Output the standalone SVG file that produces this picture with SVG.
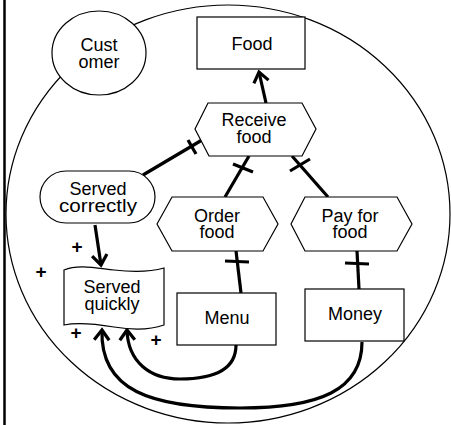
<svg xmlns="http://www.w3.org/2000/svg" width="451" height="425" viewBox="0 0 451 425">
<style>
.n{fill:#fff;stroke:#000;stroke-width:1.2}
.t{font-family:"Liberation Sans",Arial,sans-serif;font-size:18px;fill:#000;text-anchor:middle}
.p{font-family:"Liberation Sans",Arial,sans-serif;font-size:19px;font-weight:bold;fill:#000;text-anchor:middle}
.c{fill:none;stroke:#000;stroke-width:3.2}
.k{stroke:#000;stroke-width:3.2}
</style>
<defs>
<marker id="ah" markerUnits="userSpaceOnUse" markerWidth="24" markerHeight="24" viewBox="-12 -12 24 24" refX="0" refY="0" orient="auto">
<path d="M-10,-7.5 L0,0 L-10,7.5" fill="none" stroke="#000" stroke-width="3.2"/>
</marker>
</defs>
<rect width="451" height="425" fill="#fff"/>
<line x1="4.5" y1="0" x2="4.5" y2="425" stroke="#000" stroke-width="2.5"/>
<ellipse id="boundary" cx="228" cy="214" rx="222" ry="209" fill="none" stroke="#000" stroke-width="1.2"/>
<g id="customer"><ellipse class="n" cx="99" cy="53" rx="47" ry="42"/><text class="t" x="99" y="51">Cust</text><text class="t" x="99" y="68">omer</text></g>
<g id="connectors">
<line class="c" x1="266" y1="103" x2="259" y2="72" marker-end="url(#ah)"/>
<line class="c" x1="143" y1="175" x2="202" y2="140"/>
<line class="k" x1="188" y1="140" x2="196" y2="154"/>
<line class="c" x1="249" y1="156" x2="225" y2="197"/>
<line class="k" x1="233" y1="164" x2="253" y2="172"/>
<line class="c" x1="292" y1="156" x2="328" y2="197"/>
<line class="k" x1="290" y1="171" x2="310" y2="159"/>
<line class="c" x1="241" y1="293" x2="236" y2="251"/>
<line class="k" x1="225" y1="261" x2="249" y2="262"/>
<line class="c" x1="359" y1="289" x2="357" y2="251"/>
<line class="k" x1="345" y1="263" x2="369" y2="264"/>
<line class="c" x1="95" y1="225" x2="101" y2="265" marker-end="url(#ah)"/>
<path class="c" d="M236,345 C236,372 210,379 180,379 C150,379 128,362 127,330" marker-end="url(#ah)"/>
<path class="c" d="M362,342 C362,390 320,408 240,408 C150,408 100,390 102,330" marker-end="url(#ah)"/>
</g>
<g id="food"><rect class="n" x="197" y="17" width="108" height="52"/><text class="t" x="252" y="50">Food</text></g>
<g id="receive-food"><polygon class="n" points="195,129 208,103 302,103 316,129 302,156 209,156"/><text class="t" x="254" y="126">Receive</text><text class="t" x="254" y="143">food</text></g>
<g id="served-correctly"><rect class="n" x="40" y="171" width="115" height="52" rx="26" ry="26"/><text class="t" x="98" y="195">Served</text><text class="t" x="98" y="212" textLength="78" lengthAdjust="spacingAndGlyphs">correctly</text></g>
<g id="order-food"><polygon class="n" points="157,224 172,197 263,197 278,224 263,251 172,251"/><text class="t" x="217" y="222">Order</text><text class="t" x="217" y="238">food</text></g>
<g id="pay-for-food"><polygon class="n" points="291,224 305,197 397,197 412,224 397,251 305,251"/><text class="t" x="350" y="222">Pay for</text><text class="t" x="350" y="238">food</text></g>
<g id="served-quickly"><path class="n" d="M64,270 C78,264 96,268 114,270 C132,272 150,272 164,268 L164,325 C150,330 132,330 114,327 C96,324 78,322 64,325 Z"/><text class="t" x="112" y="293">Served</text><text class="t" x="112" y="310">quickly</text></g>
<g id="menu"><rect class="n" x="177" y="293" width="99" height="52"/><text class="t" x="227" y="324">Menu</text></g>
<g id="money"><rect class="n" x="305" y="289" width="99" height="52"/><text class="t" x="355" y="320">Money</text></g>
<g id="signs">
<text class="p" x="77" y="253">+</text>
<text class="p" x="41" y="278">+</text>
<text class="p" x="76" y="339">+</text>
<text class="p" x="156" y="346">+</text>
</g>
</svg>
